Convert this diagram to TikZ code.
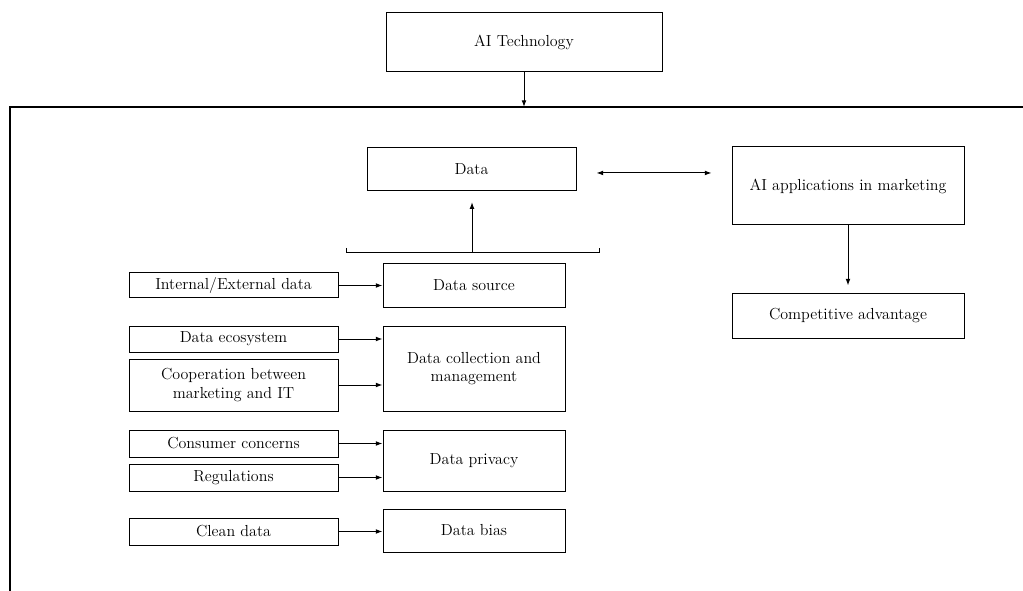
\documentclass[tikz,border=0pt]{standalone}
\usepackage{tikz}
\usetikzlibrary{arrows.meta}

\begin{document}
\begin{tikzpicture}[x=0.75pt,y=0.75pt,yscale=-1,xscale=1,
    box/.style={draw, line width=0.75pt, inner sep=2pt, align=center, font=\fontsize{12}{14}\selectfont},
    lbox/.style={box, minimum width=156.75pt},
    rbox/.style={box, minimum width=136.5pt},
    conn/.style={line width=0.75pt, -{Latex[length=5pt,width=3.6pt]}},
    dconn/.style={line width=0.75pt, {Latex[length=5pt,width=3.6pt]}-{Latex[length=5pt,width=3.6pt]}}]
    \useasboundingbox (0,0) rectangle (1023,591);
    % outer frame
    \coordinate (frametop) at (10,107);
    \draw [line width=0.9pt] (10,591) -- (frametop) -- (1023,107) ;
    % top level
    \node [box, minimum width=207pt, minimum height=44.25pt] (aitech) at (524,42.5) {AI Technology};
    \node [box, minimum width=156.75pt, minimum height=32.25pt] (data) at (471.5,169.5) {Data};
    \node [box, minimum width=174pt, minimum height=58.5pt] (aiapp) at (848,186) {AI applications in marketing};
    \node [box, minimum width=174pt, minimum height=33pt] (compadv) at (848,316) {Competitive advantage};
    % data aspects
    \node [rbox, minimum height=32.25pt] (dsource) at (474,285.5) {Data source};
    \node [rbox, minimum height=63.75pt] (dcollect) at (474,368.5) {Data collection and\\management};
    \node [rbox, minimum height=45.75pt] (dprivacy) at (474,460.5) {Data privacy};
    \node [rbox, minimum height=32.25pt] (dbias) at (474,530.5) {Data bias};
    % drivers
    \node [lbox, minimum height=18.75pt] (intext) at (233.5,285.5) {Internal/External data};
    \node [lbox, minimum height=19.5pt] (ecosys) at (233.5,339) {Data ecosystem};
    \node [lbox, minimum height=39pt] (coop) at (233.5,385) {Cooperation between\\marketing and IT};
    \node [lbox, minimum height=20.25pt] (concern) at (233.5,443.5) {Consumer concerns};
    \node [lbox, minimum height=20.25pt] (regul) at (233.5,477.5) {Regulations};
    \node [lbox, minimum height=20.25pt] (clean) at (233.5,531.5) {Clean data};
    % bracket
    \coordinate (brleft) at (346,253);
    \coordinate (brright) at (599,253);
    \coordinate (brmid) at (472,253);
    \draw [line width=0.75pt] ([yshift=-3.75pt]brleft) -- (brleft) -- (brright) -- ([yshift=-3.75pt]brright) ;
    % connectors
    \draw [conn] (aitech) -- (aitech.south |- frametop) ;
    \draw [conn, shorten >=8pt] (brmid) -- (brmid |- data.south) ;
    \draw [dconn, shorten <=15pt, shorten >=15pt] ([yshift=2.6pt]data.east) -- ([yshift=2.6pt]data.east -| aiapp.west) ;
    \draw [conn, shorten >=6pt] (aiapp) -- (compadv) ;
    \draw [conn] (intext) -- (dsource) ;
    \draw [conn] (ecosys.east) -- (ecosys.east -| dcollect.west) ;
    \draw [conn] (coop.east) -- (coop.east -| dcollect.west) ;
    \draw [conn] (concern.east) -- (concern.east -| dprivacy.west) ;
    \draw [conn] (regul.east) -- (regul.east -| dprivacy.west) ;
    \draw [conn] (clean.east) -- (clean.east -| dbias.west) ;
\end{tikzpicture}
\end{document}
